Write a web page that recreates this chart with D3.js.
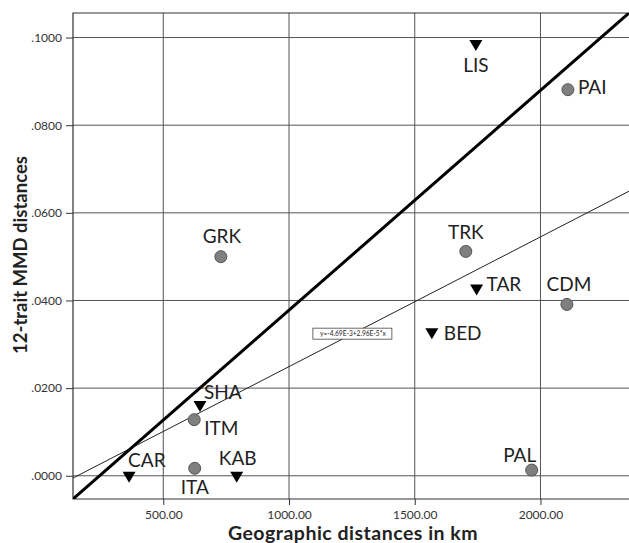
<!DOCTYPE html>
<html>
<head>
<meta charset="utf-8">
<script src="https://cdn.jsdelivr.net/npm/d3@7"></script>
<style>
  body { margin: 0; background: #fff; }
  svg { display: block; font-family: Lato, "Open Sans", sans-serif; }
</style>
</head>
<body>
<div id="chart"></div>
<script>
// populations: geographic distance (km) vs 12-trait MMD distance
const sites  = ["GRK", "TRK", "CDM", "PAI", "PAL", "ITA", "ITM", "LIS", "TAR", "BED", "SHA", "CAR", "KAB"];
const geoKm  = [729, 1703, 2105, 2109, 1965, 625, 623, 1743, 1746, 1568, 646, 364, 792];
const mmd    = [0.0500, 0.0512, 0.0391, 0.0881, 0.0013, 0.0017, 0.0128, 0.0983, 0.0425, 0.0325, 0.0159, -0.0002, -0.0002];
const marker = ["circle", "circle", "circle", "circle", "circle", "circle", "circle",
                "triangle", "triangle", "triangle", "triangle", "triangle", "triangle"];

const xTicks = [500, 1000, 1500, 2000];
const yTicks = [0, 0.02, 0.04, 0.06, 0.08, 0.10];

// linear fit shown in the plot, and the heavy reference diagonal
const fitIntercept = -4.69e-3, fitSlope = 2.96e-5;
const fitLabel = "y=-4.69E-3+2.96E-5*x";
const refLine = [[141, -0.0053], [2352, 0.1056]];

// where each label sits relative to its marker (dx, dy, anchor)
const labelPos = {
  GRK: [1, -20, "middle"], TRK: [0, -19, "middle"], CDM: [2, -20, "middle"],
  PAI: [10, -2, "start"],  PAL: [-12, -15, "middle"], ITA: [0, 19, "middle"],
  ITM: [10, 9, "start"],   LIS: [0, 20, "middle"],  TAR: [10, -5, "start"],
  BED: [12, 0, "start"],   SHA: [4, -14, "start"],  CAR: [-1, -16, "start"],
  KAB: [1, -18, "middle"]
};

const W = 629, H = 543;
const m = { left: 73, right: 0, top: 13, bottom: 44 };

const svg = d3.select("#chart").append("svg").attr("width", W).attr("height", H);

const x = d3.scaleLinear().domain([141, 2352]).range([m.left, W - m.right]);
const y = d3.scaleLinear().domain([-0.0053, 0.1056]).range([H - m.bottom, m.top]);

const plot = svg.append("g");

// grid
plot.append("g").selectAll("line").data(xTicks).join("line")
  .attr("x1", d => x(d)).attr("x2", d => x(d))
  .attr("y1", m.top).attr("y2", H - m.bottom)
  .attr("stroke", "#555").attr("stroke-width", 1);
plot.append("g").selectAll("line").data(yTicks).join("line")
  .attr("x1", m.left).attr("x2", W)
  .attr("y1", d => y(d)).attr("y2", d => y(d))
  .attr("stroke", "#555").attr("stroke-width", 1);

// frame
plot.append("path")
  .attr("d", `M${W},${m.top}H${m.left}V${H - m.bottom}H${W}`)
  .attr("fill", "none").attr("stroke", "#333").attr("stroke-width", 1.2);

// axes
const xAxis = svg.append("g").attr("transform", `translate(0,${H - m.bottom})`)
  .call(d3.axisBottom(x).tickValues(xTicks).tickSize(6).tickFormat(d3.format(".2f")));
const yAxis = svg.append("g").attr("transform", `translate(${m.left},0)`)
  .call(d3.axisLeft(y).tickValues(yTicks).tickSize(7).tickFormat(d => d3.format(".4f")(d).replace(/^0/, "")));
[xAxis, yAxis].forEach(a => {
  a.select(".domain").remove();
  a.selectAll(".tick line").attr("stroke", "#333");
  a.selectAll(".tick text").attr("fill", "#333").attr("font-size", 12)
    .attr("font-family", "Lato, sans-serif");
});
xAxis.selectAll(".tick text").attr("dy", "0.95em");
yAxis.selectAll(".tick text").attr("dx", "-1px");

// lines
svg.append("clipPath").attr("id", "clip").append("rect")
  .attr("x", m.left).attr("y", m.top).attr("width", W - m.left).attr("height", H - m.bottom - m.top);
const lines = svg.append("g").attr("clip-path", "url(#clip)");
const fitPts = x.domain().map(v => [v, fitIntercept + fitSlope * v]);
const line = d3.line().x(d => x(d[0])).y(d => y(d[1]));
lines.append("path").attr("d", line(fitPts)).attr("fill", "none")
  .attr("stroke", "#222").attr("stroke-width", 1);
lines.append("path").attr("d", line(refLine)).attr("fill", "none")
  .attr("stroke", "#000").attr("stroke-width", 3);

// fit label, sitting on the fit line
const midX = 1254;
const lbl = svg.append("g").attr("transform", `translate(${x(midX)},${y(fitIntercept + fitSlope * midX)})`);
lbl.append("rect").attr("x", -40).attr("y", -5.5).attr("width", 79).attr("height", 11)
  .attr("fill", "#fff").attr("stroke", "#444").attr("stroke-width", 0.8);
lbl.append("text").attr("text-anchor", "middle").attr("dy", "0.35em")
  .attr("font-size", 6.6).attr("fill", "#222").text(fitLabel);

// markers
const pts = sites.map((s, i) => ({ s, gx: geoKm[i], v: mmd[i], k: marker[i] }));
const mk = svg.append("g").selectAll("g").data(pts).join("g")
  .attr("transform", d => `translate(${x(d.gx)},${y(d.v)})`);
mk.filter(d => d.k === "circle").append("circle")
  .attr("r", 6).attr("fill", "#7f7f7f").attr("stroke", "#555").attr("stroke-width", 1);
mk.filter(d => d.k === "triangle").append("path")
  .attr("d", "M-6.5,-5L6.5,-5L0,6Z").attr("fill", "#000");
mk.append("text")
  .attr("x", d => labelPos[d.s][0]).attr("y", d => labelPos[d.s][1])
  .attr("text-anchor", d => labelPos[d.s][2])
  .attr("dy", "0.35em").attr("font-size", 19).attr("fill", "#222")
  .text(d => d.s);

// axis titles
svg.append("text").attr("x", 353).attr("y", 540)
  .attr("text-anchor", "middle").attr("font-size", 19.5).attr("font-weight", "bold")
  .attr("letter-spacing", 0.5).attr("fill", "#222")
  .text("Geographic distances in km");
svg.append("text").attr("transform", "translate(27,255) rotate(-90)")
  .attr("text-anchor", "middle").attr("font-size", 18.5).attr("font-weight", "bold").attr("fill", "#222")
  .text("12-trait MMD distances");
</script>
</body>
</html>
